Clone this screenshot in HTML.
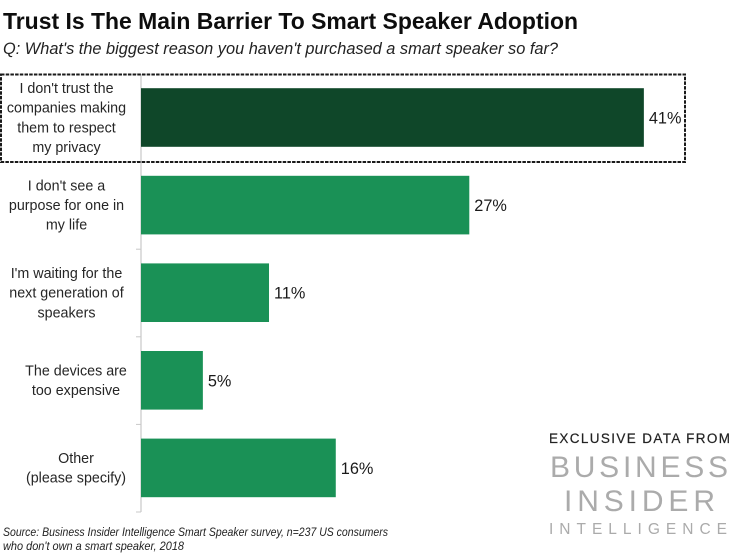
<!DOCTYPE html>
<html>
<head>
<meta charset="utf-8">
<style>
html,body{margin:0;padding:0;background:#fff;}
svg{display:block;font-family:"Liberation Sans",sans-serif;}
</style>
</head>
<body>
<svg id="chart" width="750" height="554" viewBox="0 0 750 554" xmlns="http://www.w3.org/2000/svg">
  <rect x="0" y="0" width="750" height="554" fill="#fff"/>
  <text x="3" y="29" font-size="23" font-weight="bold" fill="#0d0d0d" textLength="575" lengthAdjust="spacingAndGlyphs">Trust Is The Main Barrier To Smart Speaker Adoption</text>
  <text x="3" y="54" font-size="17" font-style="italic" fill="#222" textLength="555" lengthAdjust="spacingAndGlyphs">Q: What's the biggest reason you haven't purchased a smart speaker so far?</text>
  <g id="plot"></g>
  <rect x="1" y="74.5" width="684" height="87.5" fill="none" stroke="#1a1a1a" stroke-width="2" stroke-dasharray="3.5 1.2"/>
  <text x="3" y="536" font-size="11.8" font-style="italic" fill="#222" textLength="385" lengthAdjust="spacingAndGlyphs">Source: Business Insider Intelligence Smart Speaker survey, n=237 US consumers</text>
  <text x="3" y="550" font-size="11.8" font-style="italic" fill="#222" textLength="181" lengthAdjust="spacingAndGlyphs">who don't own a smart speaker, 2018</text>
  <text x="549" y="443" font-size="13.5" stroke="#222" stroke-width="0.2" fill="#222" textLength="181" lengthAdjust="spacing">EXCLUSIVE DATA FROM</text>
  <text x="550" y="477" font-size="30" fill="#ababab" textLength="178" lengthAdjust="spacing">BUSINESS</text>
  <text x="564" y="511" font-size="30" fill="#ababab" textLength="151" lengthAdjust="spacing">INSIDER</text>
  <text x="549" y="534" font-size="15.5" fill="#ababab" textLength="178" lengthAdjust="spacing">INTELLIGENCE</text>
</svg>
<script>
const categories = [
  ["I don't trust the", "companies making", "them to respect", "my privacy"],
  ["I don't see a", "purpose for one in", "my life"],
  ["I'm waiting for the", "next generation of", "speakers"],
  ["The devices are", "too expensive"],
  ["Other", "(please specify)"]
];
const seriesValues = [41.05, 26.8, 10.45, 5.05, 15.9];
const printedLabels = ["41%", "27%", "11%", "5%", "16%"];

const NS = "http://www.w3.org/2000/svg";
const plot = document.getElementById("plot");
const xZero = 141;
const xPerUnit = 12.25;
const bandTop = 74;
const bandHeight = 87.6;
const barHeight = 58.6;
const lineHeight = 19.6;

function xScale(v) { return xZero + v * xPerUnit; }
function bandCenter(i) { return bandTop + bandHeight * (i + 0.5) - 0.3; }

const axis = document.createElementNS(NS, "line");


axis.setAttribute("x1", xZero);
axis.setAttribute("x2", xZero);
axis.setAttribute("y1", bandTop);
axis.setAttribute("y2", bandTop + bandHeight * categories.length);
axis.setAttribute("stroke", "#c8c8c8");
axis.setAttribute("stroke-width", "1.2");
plot.appendChild(axis);

for (let t = 0; t <= categories.length; t++) {
  const tick = document.createElementNS(NS, "line");
  
  
  const ty = bandTop + bandHeight * t;
  tick.setAttribute("x1", xZero - 5);
  tick.setAttribute("x2", xZero);
  tick.setAttribute("y1", ty);
  tick.setAttribute("y2", ty);
  tick.setAttribute("stroke", "#c8c8c8");
  tick.setAttribute("stroke-width", "1");
  plot.appendChild(tick);
}

seriesValues.forEach(function (v, i) {
  const cy = bandCenter(i);

  const bar = document.createElementNS(NS, "rect");
  
  
  bar.setAttribute("x", xZero);
  bar.setAttribute("y", cy - barHeight / 2);
  bar.setAttribute("width", xScale(v) - xZero);
  bar.setAttribute("height", barHeight);
  bar.setAttribute("fill", i === 0 ? "#0f4729" : "#1a9156");
  plot.appendChild(bar);

  const val = document.createElementNS(NS, "text");
  
  
  val.setAttribute("x", xScale(v) + 5);
  val.setAttribute("y", cy + 6);
  val.setAttribute("font-size", "16.3");
  val.setAttribute("fill", "#1a1a1a");
  val.textContent = printedLabels[i];
  plot.appendChild(val);

  const lines = categories[i];
  lines.forEach(function (line, j) {
    const t = document.createElementNS(NS, "text");
    
    
    t.setAttribute("x", i >= 3 ? 76 : 66.5);
    t.setAttribute("y", cy + 5 + (j - (lines.length - 1) / 2) * lineHeight);
    t.setAttribute("text-anchor", "middle");
    t.setAttribute("font-size", "14.3");
    t.setAttribute("fill", "#262626");
    t.textContent = line;
    plot.appendChild(t);
  });
});
</script>
</body>
</html>
